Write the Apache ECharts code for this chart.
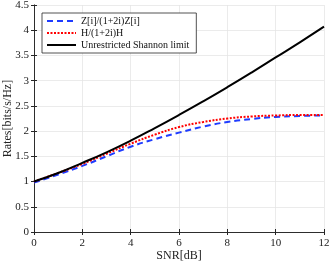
<!DOCTYPE html>
<html><head><meta charset="utf-8">
<script src="https://cdn.jsdelivr.net/npm/echarts@6/dist/echarts.min.js"></script>
<style>html,body{margin:0;padding:0;background:#fff}#c{width:329px;height:263px}</style>
</head><body><div id="c"></div>
<script>
const snr = [0,1,2,3,4,5,6,7,8,9,10,11,12];
const zSeries = [0.98,1.14,1.31,1.50,1.69,1.84,1.97,2.09,2.18,2.24,2.28,2.30,2.31];
const hSeries = [1.00,1.17,1.35,1.55,1.75,1.93,2.08,2.18,2.25,2.29,2.31,2.32,2.32];
const shannon = [1.00,1.17,1.37,1.58,1.81,2.06,2.32,2.59,2.87,3.16,3.46,3.76,4.07];
const names = ['Z[i]/(1+2i)Z[i]','H/(1+2i)H','Unrestricted Shannon limit'];
const font = 'Liberation Serif';
const axisCol = '#262626';
const chart = echarts.init(document.getElementById('c'));
const pair = a => snr.map((x,i)=>[x,a[i]]);
chart.setOption({
  animation:false,
  grid:{left:34,right:5,top:5,bottom:31,outerBoundsMode:'none',containLabel:false},
  legend:{
    left:42, top:13, orient:'vertical', itemWidth:29, itemHeight:10, itemGap:2,
    padding:[3,7,3,4], backgroundColor:'#fff', borderColor:axisCol, borderWidth:0.8,
    textStyle:{fontFamily:font,fontSize:10,color:'#111'},
    itemStyle:{opacity:0, borderWidth:0},
    data:names
  },
  xAxis:[{
    type:'value', min:0, max:12, interval:2,
    name:'SNR[dB]', nameLocation:'middle', nameGap:18, nameMoveOverlap:false,
    nameTextStyle:{fontFamily:font,fontSize:12,color:'#222'},
    axisLine:{lineStyle:{color:axisCol,width:0.8}},
    axisTick:{inside:true,length:3,lineStyle:{color:axisCol}},
    axisLabel:{fontFamily:font,fontSize:11,color:'#222',margin:6},
    splitLine:{show:true,lineStyle:{color:'#e6e6e6',width:0.8}}
  },{
    type:'value', min:0, max:12, interval:2, position:'top',
    axisLine:{show:true,lineStyle:{color:axisCol,width:0.8}},
    axisTick:{show:true,inside:true,length:3,lineStyle:{color:axisCol}},
    axisLabel:{show:false}, splitLine:{show:false}
  }],
  yAxis:[{
    type:'value', min:0, max:4.5, interval:0.5,
    name:'Rates[bits/s/Hz]', nameLocation:'middle', nameGap:20, nameMoveOverlap:false,
    nameTextStyle:{fontFamily:font,fontSize:12,color:'#222'},
    axisLine:{show:true,lineStyle:{color:axisCol,width:0.8}},
    axisTick:{show:true,inside:true,length:3,lineStyle:{color:axisCol}},
    axisLabel:{fontFamily:font,fontSize:11,color:'#222',margin:5},
    splitLine:{show:true,lineStyle:{color:'#e6e6e6',width:0.8}}
  },{
    type:'value', min:0, max:4.5, interval:0.5, position:'right',
    axisLine:{show:true,lineStyle:{color:axisCol,width:0.8}},
    axisTick:{show:true,inside:true,length:3,lineStyle:{color:axisCol}},
    axisLabel:{show:false}, splitLine:{show:false}
  }],
  series:[
    {name:names[0],type:'line',smooth:true,symbol:'none',data:pair(zSeries),
     lineStyle:{color:'#1f3cff',width:2,type:[6,4]},itemStyle:{color:'#1f3cff'},z:3},
    {name:names[1],type:'line',smooth:true,symbol:'none',data:pair(hSeries),
     lineStyle:{color:'#ff0000',width:2,type:[2,1.5]},itemStyle:{color:'#ff0000'},z:4},
    {name:names[2],type:'line',smooth:true,symbol:'none',data:pair(shannon),
     lineStyle:{color:'#000',width:2},itemStyle:{color:'#000'},z:5}
  ]
});
</script></body></html>
